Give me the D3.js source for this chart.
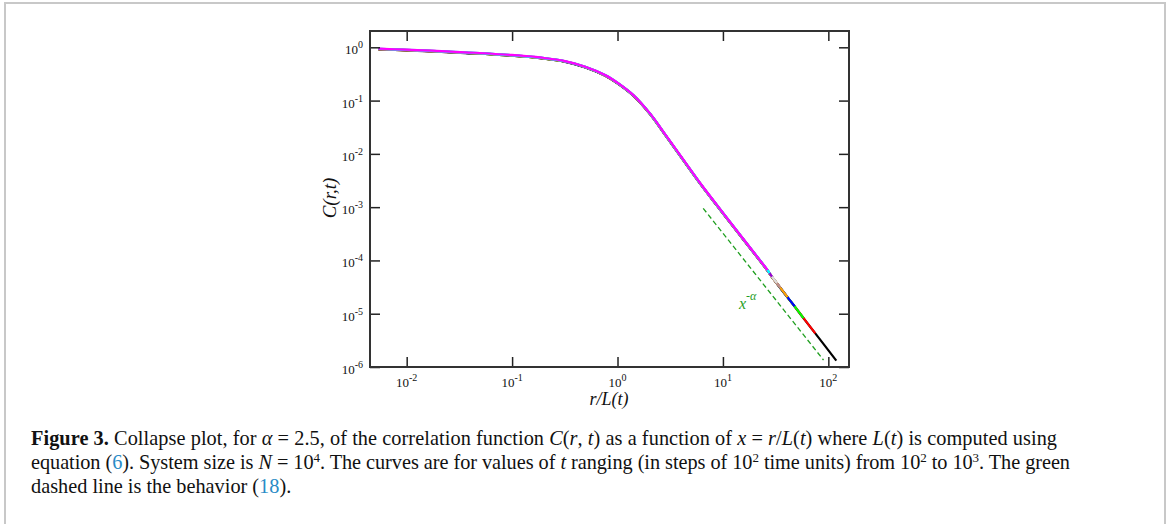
<!DOCTYPE html>
<html>
<head>
<meta charset="utf-8">
<script src="https://cdn.jsdelivr.net/npm/d3@7"></script>
<style>
  body { margin: 0; background: #fff; }
  svg { display: block; }
</style>
</head>
<body>
<script>
// master collapse curve (x = r/L(t), C)
const curveX = [0.0054, 0.0100, 0.0173, 0.0359, 0.0995, 0.192, 0.319, 0.494, 0.764, 1.02, 1.42, 2.04, 2.94, 4.23, 6.10, 8.77, 11.3];
const curveC = [0.942, 0.902, 0.863, 0.805, 0.718, 0.638, 0.550, 0.433, 0.302, 0.211, 0.126, 0.0569, 0.0210, 0.00769, 0.00281, 0.00110, 0.000575];

// where each curve stops (t = 100 ... 1000)
const times = [100, 200, 300, 400, 500, 600, 700, 800, 900, 1000];
const endX = [119, 75.2, 58.2, 47.9, 41.0, 35.0, 32.5, 29.2, 27.7, 26.5];
const endC = [1.36e-6, 4.41e-6, 8.49e-6, 1.41e-5, 2.09e-5, 3.14e-5, 3.80e-5, 5.01e-5, 5.82e-5, 6.61e-5];
const colors = ["#000000", "#ff0000", "#00ff00", "#0000ff", "#ffa500", "#bc8f8f", "#dcdcdc", "#9400d3", "#00ffff", "#ff00ff"];

// green dashed x^-alpha line (two end points)
const guideX = [6.5, 90];
const guideC = [9.5e-4, 1.35e-6];

const xTicks = [1e-2, 1e-1, 1e0, 1e1, 1e2];
const yTicks = [1e0, 1e-1, 1e-2, 1e-3, 1e-4, 1e-5, 1e-6];

const W = 1170, H = 524;
const box = { left: 370, right: 849, top: 31, bottom: 367 };
const serif = "Liberation Serif, Times New Roman, serif";

let svg = d3.select("body").append("svg").attr("width", W).attr("height", H);

// page frame
svg.append("rect").attr("x", 5).attr("y", 3).attr("width", 1160).attr("height", 540)
  .attr("fill", "none").attr("stroke", "#c8c8c8").attr("stroke-width", 2);

let x = d3.scaleLog().domain([Math.pow(10, -2.348), Math.pow(10, 2.196)]).range([box.left, box.right]);
let y = d3.scaleLog().domain([1e-6, Math.pow(10, 0.306)]).range([box.bottom, box.top]);

// build master points, with series end points merged in
let master = curveX.map((v, i) => ({ x: v, c: curveC[i] }));
endX.forEach((v, i) => master.push({ x: v, c: endC[i] }));
master.sort((a, b) => a.x - b.x);

let line = d3.line().x(d => x(d.x)).y(d => y(d.c)).curve(d3.curveCatmullRom.alpha(0.5));

let curves = svg.append("g");
times.forEach((t, i) => {
  curves.append("path")
    .datum(master.filter(d => d.x <= endX[i] + 1e-9))
    .attr("fill", "none")
    .attr("stroke", colors[i])
    .attr("stroke-width", 2.2)
    .attr("transform", `translate(0,${(9 - i) * 0.08})`)
    .attr("d", line);
});

// green dashed guide
svg.append("path")
  .datum(guideX.map((v, i) => ({ x: v, c: guideC[i] })))
  .attr("fill", "none").attr("stroke", "#1f9e1f").attr("stroke-width", 1.3)
  .attr("stroke-dasharray", "5,3")
  .attr("d", d3.line().x(d => x(d.x)).y(d => y(d.c)));

let guideLbl = svg.append("text").attr("x", 739).attr("y", 309)
  .attr("font-family", serif).attr("font-style", "italic")
  .attr("font-size", 16).attr("fill", "#1f9e1f");
guideLbl.append("tspan").text("x");
guideLbl.append("tspan").attr("dy", -9).attr("font-size", 12).text("-α");

// axes, ticks pointing inward on all four sides
let axes = svg.append("g").attr("class", "axes");
axes.append("g").attr("transform", `translate(0,${box.bottom})`)
  .call(d3.axisBottom(x).tickValues(xTicks).tickSize(-10).tickFormat(""));
axes.append("g").attr("transform", `translate(0,${box.top})`)
  .call(d3.axisTop(x).tickValues(xTicks).tickSize(-10).tickFormat(""));
axes.append("g").attr("transform", `translate(${box.left},0)`)
  .call(d3.axisLeft(y).tickValues(yTicks).tickSize(-10).tickFormat(""));
axes.append("g").attr("transform", `translate(${box.right},0)`)
  .call(d3.axisRight(y).tickValues(yTicks).tickSize(-10).tickFormat(""));
axes.selectAll(".domain").remove();
axes.selectAll(".tick line").attr("stroke", "#222").attr("stroke-width", 1.5);

svg.append("rect")
  .attr("x", box.left).attr("y", box.top)
  .attr("width", box.right - box.left).attr("height", box.bottom - box.top)
  .attr("fill", "none").attr("stroke", "#333").attr("stroke-width", 2);

// power-of-ten tick labels
function powLabel(g, v) {
  let e = Math.round(Math.log10(v));
  g.append("tspan").text("10");
  g.append("tspan").attr("dy", -6).attr("font-size", 10).text(e);
}

xTicks.forEach(v => {
  let t = svg.append("text").attr("x", x(v)).attr("y", 387)
    .attr("text-anchor", "middle")
    .attr("font-family", serif).attr("font-size", 13).attr("fill", "#111");
  powLabel(t, v);
});
yTicks.forEach(v => {
  let t = svg.append("text").attr("x", 363).attr("y", y(v) + 7)
    .attr("text-anchor", "end")
    .attr("font-family", serif).attr("font-size", 13).attr("fill", "#111");
  powLabel(t, v);
});

// axis titles
svg.append("text").attr("x", 609).attr("y", 405).attr("text-anchor", "middle")
  .attr("font-family", serif).attr("font-style", "italic")
  .attr("font-size", 18).attr("fill", "#111").text("r/L(t)");
svg.append("text").attr("transform", "translate(336,198) rotate(-90)").attr("text-anchor", "middle")
  .attr("font-family", serif).attr("font-style", "italic")
  .attr("font-size", 19).attr("fill", "#111").text("C(r,t)");

// caption
const blue = "#2a8bc6";
const capLines = [
  [["Figure 3.", "b"], [" Collapse plot, for "], ["α", "i"], [" = 2.5, of the correlation function "], ["C", "i"], ["("], ["r", "i"], [", "], ["t", "i"], [") as a function of "], ["x", "i"], [" = "], ["r", "i"], ["/"], ["L", "i"], ["("], ["t", "i"], [") where "], ["L", "i"], ["("], ["t", "i"], [") is computed using"]],
  [["equation ("], ["6", "blue"], ["). System size is "], ["N", "i"], [" = 10"], ["4", "sup"], [". The curves are for values of "], ["t", "i"], [" ranging (in steps of 10"], ["2", "sup"], [" time units) from 10"], ["2", "sup"], [" to 10"], ["3", "sup"], [". The green"]],
  [["dashed line is the behavior ("], ["18", "blue"], [")."]]
];
const capY = [445, 469, 493];
const capW = [1026, 1039, null]; // widths of the full lines in the reference

let capFont = 20.3;
capLines.forEach((segs, li) => {
  let t = svg.append("text").attr("class", "cap").attr("x", 31).attr("y", capY[li])
    .attr("font-family", serif).attr("font-size", capFont).attr("fill", "#111");
  segs.forEach(s => {
    let sp = t.append("tspan").text(s[0]);
    if (s[1] === "b") sp.attr("font-weight", "bold");
    if (s[1] === "i") sp.attr("font-style", "italic");
    if (s[1] === "blue") sp.attr("fill", blue);
    if (s[1] === "sup") sp.attr("dy", -7).attr("font-size", 13).classed("sup", true);
  });
  // restore baseline after superscripts
  t.selectAll("tspan").each(function (d, i, nodes) {
    let prev = nodes[i - 1];
    if (prev && d3.select(prev).classed("sup")) d3.select(this).attr("dy", 7);
  });
  if (capW[li]) t.attr("textLength", capW[li]).attr("lengthAdjust", "spacing");
});
</script>
</body>
</html>
